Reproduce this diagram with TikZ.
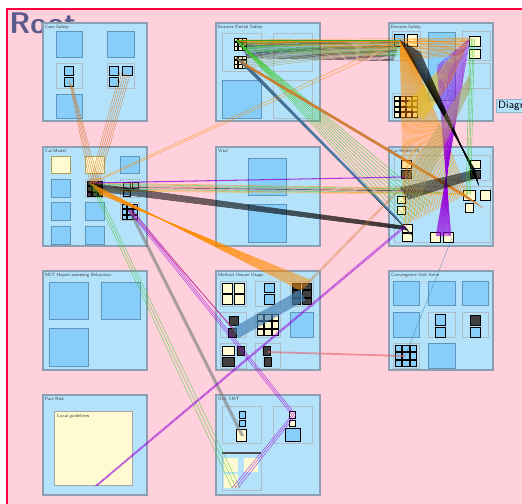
\documentclass[tikz,border=0pt]{standalone}
\usetikzlibrary{positioning}
\definecolor{bgpink}{RGB}{255,209,220}
\definecolor{rootred}{RGB}{255,0,64}
\definecolor{pkgblue}{RGB}{181,226,251}
\definecolor{pkgedge}{RGB}{140,160,178}
\definecolor{itemblue}{RGB}{135,206,250}
\definecolor{itemedge}{RGB}{95,150,185}
\definecolor{cream}{RGB}{255,250,210}
\definecolor{rootink}{RGB}{90,90,140}
\definecolor{lnorange}{RGB}{255,140,0}
\definecolor{lnbrown}{RGB}{205,120,40}
\definecolor{lngold}{RGB}{230,190,30}
\definecolor{lnolive}{RGB}{170,160,90}
\definecolor{lngreen}{RGB}{60,200,40}
\definecolor{lnpurple}{RGB}{150,0,220}
\definecolor{lnblue}{RGB}{70,130,180}
\definecolor{lngray}{RGB}{130,130,130}
\definecolor{lnpink}{RGB}{220,120,130}
\tikzset{
	pkg/.style={draw=pkgedge,fill=pkgblue,line width=0.8pt},
	item/.style={draw=itemedge,fill=itemblue,line width=0.5pt},
	frm/.style={draw=pkgedge!70!white,line width=0.4pt},
	citem/.style={draw=lnolive,fill=cream,line width=0.4pt},
	tb/.style={draw=black,fill=itemblue,line width=0.5pt},
	tc/.style={draw=black,fill=cream,line width=0.4pt},
	td/.style={draw=black,fill=black!75,line width=0.4pt},
	ttl/.style={anchor=north west,inner sep=0.5pt,font=\sffamily\fontsize{2.6}{3}\selectfont,text=black!75},
	ln/.style={line width=0.25pt,opacity=0.75}
}
\begin{document}
\begin{tikzpicture}[x=0.02cm,y=-0.02cm]
	\useasboundingbox (0,0) rectangle (522,504);
	\fill[white] (0,0) rectangle (522,504);
	\fill[bgpink] (7,9) rectangle (522,504);
	\draw[rootred,line width=1.6pt] (7,504) -- (7,9) -- (522,9);
	\node[anchor=north west,inner sep=0,text=rootink,font=\sffamily\bfseries\fontsize{17}{17}\selectfont] (root) at (9,12) {Root};
	\node[anchor=west,fill=pkgblue,draw=pkgblue!80!black,inner sep=1pt,font=\sffamily\fontsize{6}{6}\selectfont] (diag) at (496,106) {Diagram};
	% packages
	\draw[pkg] (43,23) rectangle (147,121);
	\draw[pkg] (216,23) rectangle (320,121);
	\draw[pkg] (389,23) rectangle (493,121);
	\draw[pkg] (43,147) rectangle (147,246);
	\draw[pkg] (216,147) rectangle (320,246);
	\draw[pkg] (389,147) rectangle (493,246);
	\draw[pkg] (43,271) rectangle (147,370);
	\draw[pkg] (216,271) rectangle (320,370);
	\draw[pkg] (389,271) rectangle (493,370);
	\draw[pkg] (43,395) rectangle (147,495);
	\draw[pkg] (216,395) rectangle (320,495);
	\node[ttl] (tA) at (44,24) {Case Safety};
	\node[ttl] (tB) at (217,24) {Ensures Partial Safety};
	\node[ttl] (tC) at (390,24) {Ensures Safety};
	\node[ttl] (tD) at (44,148) {Cal Model};
	\node[ttl] (tE) at (217,148) {Vital};
	\node[ttl] (tF) at (390,148) {Cal Model US};
	\node[ttl] (tH) at (44,272) {MLT Hoped assessing Behaviour};
	\node[ttl] (tG) at (217,272) {Method Unsure Usage};
	\node[ttl] (tI) at (390,272) {Convergence Unit Anim};
	\node[ttl] (tJ) at (44,396) {Part Risk};
	\node[ttl] (tK) at (217,396) {Unit CMT};
	% case safety
	\draw[item] (56,31) rectangle (82,57) (107,31) rectangle (134,57) (56,94) rectangle (82,118);
	\draw[frm] (56,63) rectangle (82,88) (107,63) rectangle (134,88);
	\draw[tb] (64,66) rectangle (73,75) (64,77) rectangle (73,86);
	\draw[tb] (109,66) rectangle (118,75) (122,66) rectangle (132,75) (109,77) rectangle (118,86);
	% ensures partial safety
	\draw[frm] (222,33) rectangle (261,71) (273,33) rectangle (312,71) (273,80) rectangle (312,118);
	\draw[item] (222,80) rectangle (261,118);
	\foreach \x in {0,1,2} \foreach \y in {0,1,2} {
		\draw[tc] (234+\x*4.3,38+\y*4.3) rectangle ++(3.8,3.8);
		\draw[tc] (234+\x*4.3,56+\y*4.3) rectangle ++(3.8,3.8);
	}
	% ensures safety
	\draw[frm] (392,31) rectangle (420,60) (462,31) rectangle (490,60) (462,63) rectangle (490,88) (392,93) rectangle (420,118);
	\draw[item] (428,32) rectangle (455,100);
	\draw[tb] (394,34) rectangle (404,46);
	\draw[tc] (407,34) rectangle (417,46) (469,36) rectangle (480,46) (469,49) rectangle (480,58);
	\foreach \x in {0,...,3} \foreach \y in {0,...,3} \draw[tc] (394+\x*6,96+\y*5.5) rectangle ++(5,4.5);
	% cal model
	\draw[citem] (51,156) rectangle (70,173) (85,156) rectangle (104,173);
	\draw[item] (120,156) rectangle (139,173) (51,179) rectangle (70,197) (51,202) rectangle (70,220) (85,202) rectangle (104,220) (51,226) rectangle (70,244) (85,226) rectangle (104,244);
	\draw[frm] (85,179) rectangle (104,197) (120,179) rectangle (139,197) (120,202) rectangle (139,220);
	\foreach \x in {0,1,2} \foreach \y in {0,1,2} {
		\draw[td] (87+\x*5.5,181+\y*5.5) rectangle ++(4.5,4.5);
		\draw[tb] (122+\x*5.5,204+\y*5.5) rectangle ++(4.5,4.5);
	}
	\draw[tb] (123,182) rectangle (130,188) (132,182) rectangle (138,188) (123,190) rectangle (130,196);
	% vital
	\draw[item] (248,158) rectangle (286,195) (248,204) rectangle (286,242);
	% cal model us
	\draw[frm] (394,155) rectangle (490,180) (394,186) rectangle (490,242);
	\draw[tc] (401,160) rectangle (411,168) (470,160) rectangle (480,168) (397,196) rectangle (405,203) (397,206) rectangle (405,214) (463,190) rectangle (475,200) (480,190) rectangle (490,200) (465,203) rectangle (473,212);
	\draw[td] (401,170) rectangle (411,178) (470,170) rectangle (480,178);
	\draw[tc] (402,224) rectangle (412,232) (402,233) rectangle (412,241) (430,232) rectangle (440,242) (443,232) rectangle (453,242);
	% mlt
	\draw[item] (49,282) rectangle (88,319) (101,282) rectangle (140,319) (49,328) rectangle (88,366);
	% method unsure usage
	\draw[frm] (220,281) rectangle (246,306) (255,281) rectangle (280,306) (290,281) rectangle (313,306) (220,312) rectangle (246,337) (255,312) rectangle (280,337) (220,343) rectangle (246,368) (255,343) rectangle (280,368);
	\draw[item] (290,312) rectangle (313,337);
	\foreach \x in {0,1} \foreach \y in {0,1} \draw[tc] (222+\x*12,283+\y*11.5) rectangle ++(10.5,10);
	\foreach \x in {0,1,2} \foreach \y in {0,1,2} \draw[tc] (257+\x*7.6,314+\y*7.6) rectangle ++(6.6,6.6);
	\foreach \x in {0,1} \foreach \y in {0,1,2} \draw[td] (292+\x*10.5,283+\y*7.6) rectangle ++(8.5,6.5);
	\draw[tb] (264,283) rectangle (274,292) (264,294) rectangle (274,304);
	\draw[td] (229,316) rectangle (238,325) (228,328) rectangle (236,337) (222,357) rectangle (234,366) (237,346) rectangle (244,355) (263,346) rectangle (270,355) (264,357) rectangle (271,366);
	\draw[tc] (222,346) rectangle (234,355);
	% convergence unit anim
	\draw[item] (393,281) rectangle (419,305) (428,281) rectangle (455,305) (462,281) rectangle (488,305) (393,312) rectangle (419,337) (428,343) rectangle (455,368);
	\draw[frm] (428,312) rectangle (455,337) (462,312) rectangle (488,337) (393,343) rectangle (419,368);
	\draw[tb] (435,314) rectangle (445,325) (435,327) rectangle (445,337) (470,327) rectangle (480,337);
	\draw[td] (470,315) rectangle (480,325);
	\foreach \x in {0,1,2} \foreach \y in {0,1,2} \draw[tb] (395+\x*7.6,345+\y*7.6) rectangle ++(6.6,6.6);
	% part risk
	\draw[citem,draw=black!35] (54,411) rectangle (132,485);
	\node[ttl] (lg) at (56,413) {Local guidelines};
	% unit cmt
	\draw[frm] (222,406) rectangle (261,443) (273,406) rectangle (312,443) (222,453) rectangle (261,490);
	\draw[black!70,line width=0.6pt] (222,453) -- (261,453);
	\draw[tb] (239,411) rectangle (245,418) (239,420) rectangle (245,426) (285,428) rectangle (300,441);
	\draw[tc] (289,411) rectangle (295,418) (289,420) rectangle (295,426) (236,429) rectangle (246,441);
	\draw[citem,draw=none] (224,458) rectangle (238,472) (244,458) rectangle (258,472) (224,474) rectangle (238,488);
	% connector ends
	\path (69,80) coordinate (aL) (120,72) coordinate (aR);
	\path (236,40) coordinate (bU) (236,58) coordinate (bD);
	\path (400,40) coordinate (cL) (470,38) coordinate (cR) (470,75) coordinate (cM) (405,105) coordinate (cB);
	\path (90,183) coordinate (dC) (128,210) coordinate (dG);
	\path (406,165) coordinate (fT) (475,170) coordinate (fTR) (400,188) coordinate (fM) (466,195) coordinate (fR) (404,226) coordinate (fB) (436,236) coordinate (fB2) (452,238) coordinate (fB3);
	\path (300,290) coordinate (gT) (233,328) coordinate (gL) (268,352) coordinate (gB);
	\path (405,356) coordinate (iB) (95,486) coordinate (jB);
	\path (241,436) coordinate (kA) (292,415) coordinate (kB) (232,488) coordinate (kC);
	% connectors
	\foreach \i in {0,...,4} \draw[ln,lnbrown] ([shift={(\i,\i*2)}]aL) -- ([shift={(\i*2,-\i)}]dC);
	\foreach \i in {0,...,5} \draw[ln,lnbrown] ([shift={(\i*2,\i*0.5)}]aR) -- ([shift={(\i*1.5,\i)}]dC);
	\foreach \i in {0,...,16} \draw[ln,black] ([shift={(\i*0.7,\i*1.1)}]bU) -- ([shift={(-\i*0.4,\i*1.3)}]cL);
	\foreach \i in {0,...,9} \draw[ln,lngreen] ([shift={(\i*0.9,\i*1.2)}]bU) -- ([shift={(\i*0.6,\i*1.8)}]cL);
	\foreach \i in {0,...,7} \draw[ln,lnolive] ([shift={(\i*1.2,\i*1.5)}]bD) -- ([shift={(-\i*0.5,\i*1.6)}]cL);
	\foreach \i in {0,...,4} \draw[ln,lnorange] ([shift={(\i*2,\i)}]bU) -- ([shift={(-\i,\i*3)}]cR);
	\foreach \i in {0,...,14} \draw[ln,black!75] ([shift={(\i*0.8,\i*0.5)}]bD) -- ([shift={(\i*0.6,\i*0.7)}]fB);
	\foreach \i in {0,...,9} \draw[ln,lngreen] ([shift={(\i*0.9,\i*0.8)}]bU) -- ([shift={(\i*3,-\i*2.5)}]fB);
	\foreach \i in {0,...,6} \draw[ln,lnblue] ([shift={(\i*1.2,\i*0.5)}]bD) -- ([shift={(-\i*1.2,-\i*1.5)}]fB);
	\foreach \i in {0,...,9} \draw[ln,lnbrown] ([shift={(\i*1.2,\i)}]bD) -- ([shift={(\i*2,\i*1.5)}]fR);
	\foreach \c/\o in {lnorange/0,lngreen/2,lnolive/4,lnbrown/6,black/8,lnpink/10,lngreen/12,lnorange/14,lngold/16} \draw[ln,\c] ([shift={(0,\o*0.5)}]dC) -- ([shift={(\o*4,\o*0.4)}]fM);
	\draw[ln,lnpurple,line width=0.6pt] (dC) -- ([shift={(0,12)}]fT);
	\foreach \i in {0,...,10} \draw[ln,black] ([shift={(\i*0.6,\i*0.8)}]dC) -- ([shift={(\i*0.4,\i*0.4)}]fB);
	\foreach \i in {0,1} \draw[ln,lnorange] ([shift={(\i*3,0)}]dC) -- ([shift={(0,\i*4)}]cL);
	\foreach \i in {0,...,16} \draw[ln,lnorange] ([shift={(\i*0.6,\i*0.7)}]dC) -- ([shift={(\i*0.7,-\i*0.6)}]gT);
	\foreach \i in {0,1,2} \draw[ln,lngreen] ([shift={(\i*3,\i*2)}]dC) -- ([shift={(\i*4,0)}]kC);
	\foreach \i in {0,...,5} \draw[ln,lngray] ([shift={(\i*0.6,0)}]dG) -- ([shift={(\i*0.6,0)}]kA);
	\foreach \c/\i in {lnpurple/0,lnorange/1,lnpurple/2} \draw[ln,\c] ([shift={(\i*2,0)}]dG) -- ([shift={(\i,\i*2)}]gL);
	\foreach \i in {0,1,2} \draw[ln,lnpurple] ([shift={(\i*2,0)}]dG) -- ([shift={(\i*2,0)}]kB);
	\foreach \i in {0,1,2} \draw[ln,lnpurple] ([shift={(\i*2,0)}]kB) -- ([shift={(\i*3,0)}]kC);
	\foreach \i in {0,...,22} \draw[ln,lnblue] ([shift={(\i*0.25,\i*0.45)}]gL) -- ([shift={(\i*0.25,\i*0.45)}]gT);
	\foreach \i in {0,1} \draw[ln,lnbrown] ([shift={(\i*2,0)}]fM) -- ([shift={(\i*2,0)}]gT);
	\draw[lnpink!80!red,line width=1pt,opacity=0.6] (gB) -- (iB);
	\draw[ln,lnblue] (iB) -- (fB3);
	\foreach \i in {0,1,2} \draw[ln,lnpurple] ([shift={(\i*1.5,0)}]fB) -- ([shift={(\i,0)}]jB);
	\foreach \i in {0,...,14} \draw[ln,lnorange] ([shift={(0,\i*1.4)}]cL) -- ([shift={(-\i*0.5,\i*1.2)}]cR);
	\foreach \i in {0,...,40} \draw[ln,lnorange] ([shift={(\i*0.3,\i*0.4)}]cL) -- ([shift={(\i*1.6,-\i*0.8)}]fB);
	\foreach \i in {0,...,30} \draw[ln,lngold] ([shift={(\i*0.6,\i*0.5)}]cB) -- ([shift={(-\i*0.6,\i*1.4)}]cR);
	\foreach \i in {0,...,30} \draw[ln,lnpurple] ([shift={(-\i*1.1,\i*0.9)}]cR) -- ([shift={(\i*0.5,0)}]fB2);
	\foreach \i in {0,...,20} \draw[ln,black] ([shift={(\i*1,\i*0.6)}]cL) -- ([shift={(\i*0.2,\i*0.8)}]fTR);
	\foreach \i in {0,...,14} \draw[ln,black] ([shift={(0,\i*0.6)}]fTR) -- ([shift={(\i*0.6,\i*0.8)}]fM);
	\foreach \i in {0,...,3} \draw[ln,lngreen] ([shift={(\i*1.5,0)}]cR) -- ([shift={(\i*1.5,0)}]fR);
	\foreach \i in {0,...,12} \draw[ln,lnolive] ([shift={(0,\i*1.2)}]cM) -- ([shift={(\i*1.5,\i)}]fM);
\end{tikzpicture}
\end{document}
